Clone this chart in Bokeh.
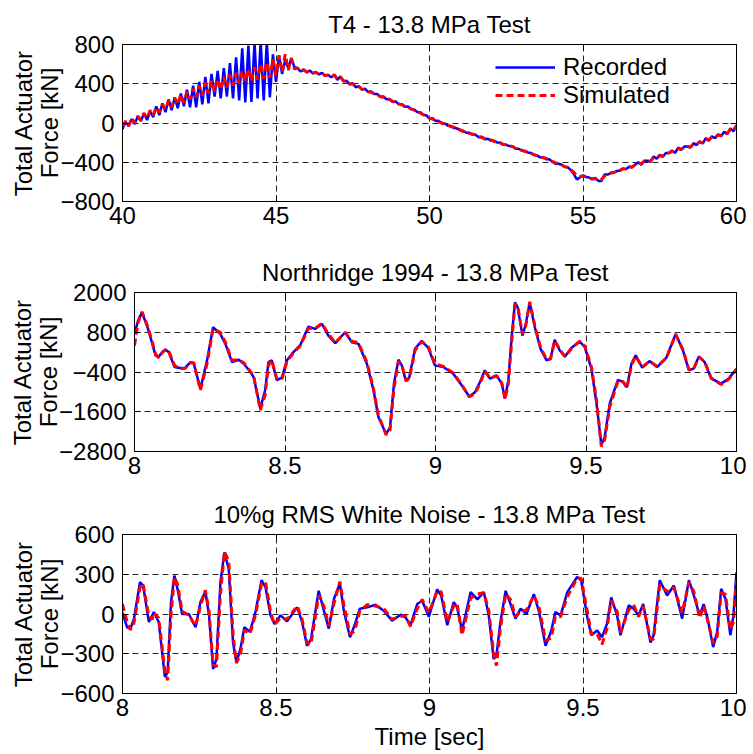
from bokeh.plotting import figure
from bokeh.models import Range1d, FixedTicker, Legend, LegendItem, LinearAxis
from bokeh.embed import file_html
from bokeh.resources import INLINE

FONT = "Liberation Sans"
FS = "24px"
FS_TITLE = "24px"

# ---------------- data ----------------
# T4 test, sampled every 0.1 s from 40 to 60 s
top_t = [round(40 + 0.1 * i, 1) for i in range(201)]
top_recorded = [
    -60, 10, -30, 40, -10, 70, 20, 100, 30, 120,
    60, 170, 80, 200, 110, 240, 130, 260, 150, 300,
    170, 340, 160, 380, 160, 420, 190, 470, 200, 500,
    270, 530, 250, 560, 270, 610, 250, 670, 230, 760,
    210, 790, 215, 820, 250, 830, 230, 830, 260, 700,
    420, 680, 500, 640, 560, 660, 570, 560, 525, 545,
    515, 535, 505, 520, 495, 510, 480, 490, 465, 490,
    440, 475, 425, 430, 395, 405, 365, 375, 340, 350,
    315, 320, 295, 295, 265, 270, 242, 245, 215, 220,
    190, 192, 165, 168, 140, 138, 112, 110, 82, 78,
    45, 48, 20, 22, -5, -5, -28, -30, -52, -55,
    -75, -80, -100, -100, -118, -120, -145, -140, -165, -160,
    -180, -180, -198, -200, -220, -222, -235, -240, -262, -262,
    -280, -285, -300, -305, -325, -330, -350, -350, -370, -370,
    -395, -415, -415, -425, -445, -450, -480, -520, -575, -555,
    -535, -550, -555, -575, -560, -590, -590, -525, -525, -510,
    -505, -490, -485, -465, -470, -445, -450, -425, -400, -425,
    -385, -385, -395, -340, -365, -325, -345, -305, -305, -280,
    -305, -250, -275, -240, -240, -250, -205, -225, -185, -210,
    -155, -180, -135, -155, -115, -135, -90, -115, -55, -85,
    -20,
]
top_simulated = [
    -40, 20, -30, 50, 0, 70, 30, 100, 50, 130,
    80, 160, 110, 190, 140, 230, 160, 260, 190, 290,
    210, 320, 240, 350, 260, 380, 280, 410, 300, 430,
    320, 450, 340, 470, 360, 490, 380, 510, 400, 530,
    420, 550, 430, 570, 440, 600, 450, 620, 460, 650,
    480, 690, 520, 700, 540, 660, 550, 560, 535, 540,
    520, 528, 508, 515, 498, 505, 485, 488, 470, 492,
    448, 468, 428, 422, 398, 398, 370, 368, 345, 342,
    320, 312, 298, 288, 270, 262, 245, 238, 220, 212,
    195, 185, 170, 160, 145, 130, 118, 102, 85, 72,
    50, 40, 25, 12, 2, -12, -18, -38, -42, -62,
    -68, -88, -92, -108, -112, -122, -138, -148, -158, -168,
    -172, -188, -192, -202, -218, -222, -232, -238, -258, -262,
    -278, -288, -298, -308, -322, -332, -348, -352, -362, -372,
    -392, -405, -415, -425, -445, -450, -475, -500, -540, -545,
    -540, -550, -565, -565, -570, -580, -575, -540, -525, -510,
    -505, -490, -485, -465, -470, -445, -450, -425, -405, -415,
    -385, -385, -390, -350, -355, -335, -335, -315, -305, -290,
    -290, -262, -265, -250, -240, -245, -215, -215, -195, -200,
    -165, -170, -145, -145, -125, -125, -100, -105, -65, -75,
    -25,
]

# Northridge 1994
mid_t = [8.000, 8.012, 8.025, 8.045, 8.070, 8.080, 8.092, 8.103, 8.114, 8.133,
         8.150, 8.169, 8.186, 8.197, 8.219, 8.241, 8.261, 8.285, 8.302, 8.324,
         8.346, 8.363, 8.385, 8.396, 8.418, 8.434, 8.445, 8.456, 8.473, 8.490,
         8.506, 8.528, 8.550, 8.578, 8.600, 8.623, 8.644, 8.667, 8.700, 8.722,
         8.744, 8.772, 8.794, 8.810, 8.836, 8.849, 8.862, 8.877, 8.888, 8.902,
         8.913, 8.932, 8.954, 8.976, 8.998, 9.026, 9.059, 9.087, 9.112, 9.131,
         9.148, 9.164, 9.181, 9.203, 9.220, 9.231, 9.242, 9.253, 9.264, 9.273,
         9.289, 9.300, 9.313, 9.330, 9.349, 9.369, 9.382, 9.396, 9.413, 9.430,
         9.452, 9.479, 9.496, 9.518, 9.535, 9.551, 9.562, 9.579, 9.606, 9.623,
         9.636, 9.651, 9.665, 9.687, 9.711, 9.736, 9.767, 9.798, 9.822, 9.842,
         9.857, 9.875, 9.894, 9.916, 9.949, 9.974, 10.000]
mid_recorded = [750, 1150, 1400, 900, 100, 50, 200, 270, 200, -250,
                -280, -270, -100, -150, -900, -50, 950, 750, 450, -100,
                -30, -150, -400, -560, -1500, -950, -100, -50, -650, -560,
                -50, 200, 400, 970, 900, 1050, 700, 470, 800, 500,
                450, -150, -950, -1750, -2270, -2070, -750, -30, -200, -680,
                -560, 300, 540, 330, -200, -250, -450, -800, -1140, -1010,
                -700, -350, -600, -500, -750, -1200, -650, 650, 1700, 1550,
                700, 1050, 1700, 950, 300, -50, 0, 570, 250, 70,
                330, 520, 350, -300, -1350, -2600, -2370, -1350, -640, -700,
                -860, -150, 100, -270, -70, -250, 30, 750, 250, -350,
                -300, 70, -100, -600, -750, -600, -300]
mid_simulated = [400, 1100, 1420, 950, 150, 30, 180, 280, 230, -200,
                 -300, -290, -120, -120, -950, -150, 900, 800, 500, -50,
                 -20, -120, -380, -520, -1550, -1100, -200, -30, -620, -600,
                 -100, 180, 380, 920, 920, 1070, 750, 480, 790, 530,
                 480, -100, -900, -1700, -2300, -2150, -900, -80, -180, -660,
                 -600, 250, 520, 360, -150, -230, -430, -780, -1150, -1050,
                 -750, -380, -580, -520, -720, -1230, -750, 500, 1650, 1600,
                 750, 1000, 1720, 1000, 350, -20, -10, 540, 280, 60,
                 310, 530, 380, -250, -1250, -2650, -2450, -1450, -680, -690,
                 -880, -200, 80, -250, -80, -230, 20, 730, 280, -330,
                 -320, 50, -80, -580, -780, -620, -320]

# 10%g RMS white noise
bot_t = [8.000, 8.015, 8.026, 8.037, 8.057, 8.067, 8.086, 8.097, 8.102, 8.118,
         8.138, 8.147, 8.158, 8.169, 8.180, 8.194, 8.216, 8.238, 8.254, 8.270,
         8.282, 8.295, 8.306, 8.319, 8.332, 8.346, 8.360, 8.371, 8.384, 8.397,
         8.415, 8.433, 8.453, 8.466, 8.482, 8.495, 8.515, 8.536, 8.569, 8.585,
         8.601, 8.614, 8.639, 8.656, 8.672, 8.689, 8.708, 8.721, 8.741, 8.756,
         8.773, 8.797, 8.824, 8.851, 8.878, 8.906, 8.922, 8.938, 8.960, 8.976,
         8.998, 9.025, 9.038, 9.058, 9.079, 9.090, 9.106, 9.134, 9.156, 9.177,
         9.193, 9.209, 9.218, 9.231, 9.248, 9.264, 9.280, 9.297, 9.316, 9.340,
         9.357, 9.378, 9.397, 9.410, 9.427, 9.449, 9.481, 9.494, 9.514, 9.527,
         9.546, 9.562, 9.578, 9.592, 9.611, 9.622, 9.649, 9.665, 9.681, 9.696,
         9.720, 9.730, 9.750, 9.774, 9.796, 9.823, 9.845, 9.861, 9.880, 9.893,
         9.906, 9.924, 9.937, 9.950, 9.964, 9.980, 9.990, 10.000]
bot_recorded = [10, -100, -110, -40, 240, 215, -60, -10, 15, -60,
                -475, -440, 90, 290, 180, 0, 0, -100, 90, 170,
                -10, -415, -340, 240, 465, 340, -215, -365, -265, -100,
                -135, 15, 255, 200, -10, -75, -10, -55, 50, -60,
                -240, -190, 175, 25, -110, 115, 230, 25, -175, -85,
                40, 50, 70, 25, -50, -5, -25, -85, 75, 100,
                -20, 185, 140, -85, 90, 50, -125, 165, 110, 165,
                -10, -340, -315, -60, 175, 75, -35, 40, 0, 150,
                15, -240, -125, 15, -10, 165, 280, 255, -25, -160,
                -125, -175, -75, 125, -10, -160, 65, 40, -10, 75,
                -215, -160, 255, 140, 215, -35, 255, 140, -10, 75,
                -35, -250, -135, 190, 115, -160, -10, 315]
bot_simulated = [75, -60, -120, -70, 200, 230, -20, -40, 10, -30,
                 -430, -500, -10, 280, 220, 20, -10, -90, 60, 180,
                 20, -380, -400, 150, 470, 400, -150, -370, -310, -120,
                 -150, -10, 230, 240, 20, -80, -30, -40, 60, -40,
                 -220, -230, 140, 60, -90, 80, 245, 70, -150, -130,
                 20, 70, 60, 40, -40, -20, -10, -95, 40, 110,
                 10, 170, 170, -60, 60, 80, -160, 120, 150, 160,
                 30, -300, -390, -110, 150, 110, -20, 20, 30, 140,
                 50, -200, -180, -20, -20, 130, 270, 270, 20, -150,
                 -150, -230, -110, 100, 20, -140, 30, 70, -20, 60,
                 -190, -190, 220, 170, 200, 10, 240, 170, -30, 60,
                 -50, -220, -170, 160, 150, -120, -60, 250]

x_ticks_top = [40, 45, 50, 55, 60]
y_ticks_top = [-800, -400, 0, 400, 800]
x_ticks_low = [8, 8.5, 9, 9.5, 10]
x_tick_labels_low = {8: "8", 8.5: "8.5", 9: "9", 9.5: "9.5", 10: "10"}
y_ticks_mid = [-2800, -1600, -400, 800, 2000]
y_ticks_bot = [-600, -300, 0, 300, 600]


# ---------------- figures ----------------
def make_fig(title, xr, yr, xticks, yticks, height, left, top, bottom, xlabel=None, xoverrides=None):
    p = figure(width=746, height=height, output_backend="svg", toolbar_location=None,
               x_range=Range1d(*xr), y_range=Range1d(*yr),
               min_border_left=left, min_border_right=10,
               min_border_top=top, min_border_bottom=bottom, title=title)
    p.title.align = "center"
    p.title.text_font = FONT
    p.title.text_font_size = FS_TITLE
    p.title.text_font_style = "normal"
    p.title.text_color = "black"
    p.title.standoff = 14
    p.outline_line_color = "black"
    p.outline_line_alpha = 1
    p.outline_line_width = 1
    p.background_fill_color = "white"
    p.border_fill_color = "white"

    for ax in (p.xaxis[0], p.yaxis[0]):
        ax.axis_line_color = "black"
        ax.major_tick_line_color = "black"
        ax.major_tick_in = 6
        ax.major_tick_out = 0
        ax.minor_tick_line_color = None
        ax.major_label_text_font = FONT
        ax.major_label_text_font_size = FS
        ax.major_label_text_color = "black"
        ax.axis_label_text_font = FONT
        ax.axis_label_text_font_size = FS
        ax.axis_label_text_font_style = "normal"
        ax.axis_label_text_color = "black"
        ax.axis_label_text_line_height = 0.98
    p.xaxis.ticker = FixedTicker(ticks=xticks)
    p.yaxis.ticker = FixedTicker(ticks=yticks)
    if xoverrides:
        p.xaxis.major_label_overrides = xoverrides
    p.xaxis.major_label_standoff = 5
    p.yaxis.major_label_standoff = 8
    p.yaxis.axis_label = "Total Actuator\nForce [kN]"
    p.yaxis.axis_label_standoff = -6
    if xlabel:
        p.xaxis.axis_label = xlabel
        p.xaxis.axis_label_standoff = 4

    for loc, tk in (("right", yticks), ("above", xticks)):
        ax = LinearAxis(ticker=FixedTicker(ticks=tk), major_label_text_font_size="0px",
                        major_label_standoff=0, major_tick_in=6, major_tick_out=0,
                        minor_tick_line_color=None, axis_line_color="black",
                        major_tick_line_color="black")
        p.add_layout(ax, loc)

    p.xgrid.ticker = FixedTicker(ticks=xticks)
    p.ygrid.ticker = FixedTicker(ticks=yticks)
    for g in (p.xgrid[0], p.ygrid[0]):
        g.grid_line_color = "black"
        g.grid_line_alpha = 0.85
        g.grid_line_dash = "6 4"
        g.grid_line_width = 1
    return p


def add_legend_row(p, label, renderer, y_offset):
    leg = Legend(items=[LegendItem(label=label, renderers=[renderer])],
                 location=(373, y_offset), padding=0, margin=0, spacing=0,
                 glyph_width=60, glyph_height=24, label_height=24, label_standoff=8,
                 label_text_font=FONT, label_text_font_size=FS, label_text_color="black",
                 border_line_alpha=0, background_fill_alpha=0)
    p.add_layout(leg)


p1 = make_fig("T4 - 13.8 MPa Test", (40, 60), (-800, 800), x_ticks_top, y_ticks_top,
              248, 122, 44, 47)
r1 = p1.line(top_t, top_recorded, line_color="blue", line_width=2.5)
r2 = p1.line(top_t, top_simulated, line_color="red", line_width=3, line_dash="7 4")
add_legend_row(p1, "Recorded", r1, 120)
add_legend_row(p1, "Simulated", r2, 92)

p2 = make_fig("Northridge 1994 - 13.8 MPa Test", (8, 10), (-2800, 2000), x_ticks_low,
              y_ticks_mid, 242, 134, 44, 39, xoverrides=x_tick_labels_low)
p2.line(mid_t, mid_recorded, line_color="blue", line_width=2.5)
p2.line(mid_t, mid_simulated, line_color="red", line_width=3, line_dash="7 4")

p3 = make_fig("10%g RMS White Noise - 13.8 MPa Test", (8, 10), (-600, 600), x_ticks_low,
              y_ticks_bot, 262, 122, 44, 59, xlabel="Time [sec]", xoverrides=x_tick_labels_low)
p3.line(bot_t, bot_recorded, line_color="blue", line_width=2.5)
p3.line(bot_t, bot_simulated, line_color="red", line_width=3, line_dash="7 4")

open("out.html", "w").write(file_html([p1, p2, p3], INLINE))
